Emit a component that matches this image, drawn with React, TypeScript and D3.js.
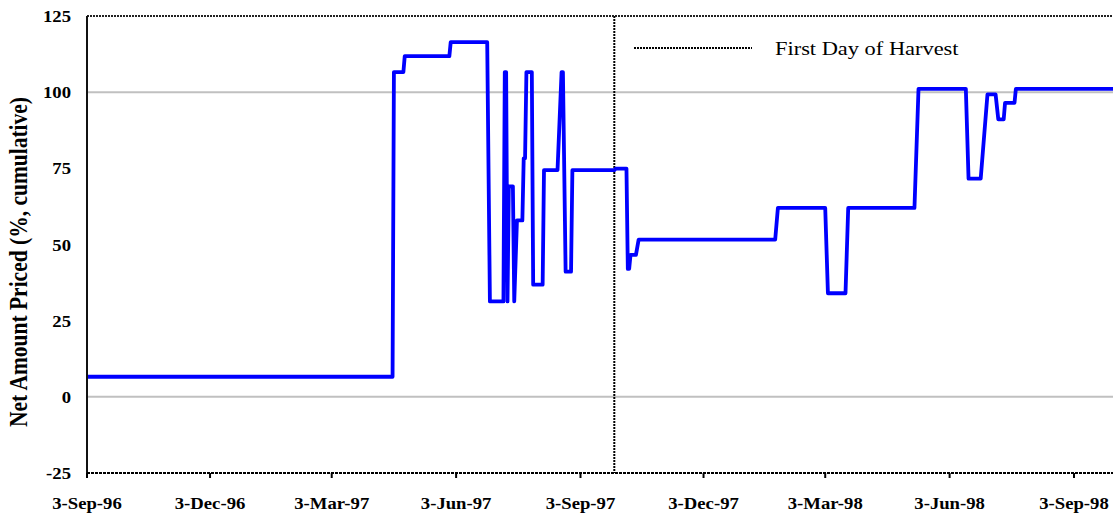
import React from "react";
import * as d3 from "d3";

// ---- data ----
const priceDates: string[] = [
  "1996-09-03", "1997-04-17", "1997-04-18", "1997-04-25", "1997-04-26",
  "1997-05-29", "1997-05-30", "1997-06-26", "1997-06-28", "1997-07-08",
  "1997-07-09", "1997-07-10", "1997-07-11", "1997-07-12", "1997-07-15",
  "1997-07-16", "1997-07-18", "1997-07-22", "1997-07-23", "1997-07-24",
  "1997-07-25", "1997-07-29", "1997-07-30", "1997-08-06", "1997-08-07",
  "1997-08-17", "1997-08-20", "1997-08-21", "1997-08-23", "1997-08-27",
  "1997-08-28", "1997-09-28", "1997-09-29", "1997-10-07", "1997-10-08",
  "1997-10-09", "1997-10-10", "1997-10-14", "1997-10-16", "1998-01-25",
  "1998-01-27", "1998-03-03", "1998-03-05", "1998-03-18", "1998-03-20",
  "1998-05-08", "1998-05-11", "1998-06-15", "1998-06-17", "1998-06-26",
  "1998-07-01", "1998-07-07", "1998-07-09", "1998-07-13", "1998-07-14",
  "1998-07-21", "1998-07-22", "1998-10-15",
];
const priceValues: number[] = [
  6.6, 6.6, 106.6, 106.6, 111.8,
  111.8, 116.4, 116.4, 31.3, 31.3,
  106.6, 106.6, 31.3, 69.1, 69.1,
  31.3, 57.9, 57.9, 78.3, 78.3,
  106.6, 106.6, 36.8, 36.8, 74.4,
  74.4, 106.6, 106.6, 41.1, 41.1,
  74.4, 74.4, 74.9, 74.9, 42.0,
  42.0, 46.6, 46.6, 51.6, 51.6,
  62.0, 62.0, 34.0, 34.0, 62.0,
  62.0, 101.1, 101.1, 71.6, 71.6,
  99.3, 99.3, 91.1, 91.1, 96.5,
  96.5, 101.1, 101.1,
];
const xTickDates: string[] = [
  "1996-09-03", "1996-12-03", "1997-03-03", "1997-06-03", "1997-09-03",
  "1997-12-03", "1998-03-03", "1998-06-03", "1998-09-03",
];
const yTicks: number[] = [-25, 0, 25, 50, 75, 100, 125];
const gridValues: number[] = [0, 100];
const harvestDate = "1997-09-28";
const legendLabel = "First Day of Harvest";
const yTitle = "Net Amount Priced (%, cumulative)";

const W = 1113;
const H = 516;
const SX = 1.18; // horizontal stretch of the original text
const SXT = 1.1; // stretch for tick labels

const parse = d3.utcParse("%Y-%m-%d");
const fmt = d3.utcFormat("%-d-%b-%y");

export default function App() {
  const left = 87;
  const top = 16;
  const bottom = 473;
  const right = W;

  const x = d3
    .scaleUtc()
    .domain([parse("1996-09-03")!, parse("1998-09-03")!])
    .range([87, 1074]);
  const y = d3.scaleLinear().domain([-25, 125]).range([bottom, top]);

  const pts = priceDates.map((d, i) => [parse(d)!, priceValues[i]] as [Date, number]);
  const line = d3
    .line<[Date, number]>()
    .x((d) => x(d[0]))
    .y((d) => y(d[1]));

  const hx = x(parse(harvestDate)!);
  const font = "'Liberation Serif', 'Times New Roman', serif";

  return (
    <svg
      width={W}
      height={H}
      style={{ position: "absolute", left: 0, top: 0, background: "#fff" }}
      fontFamily={font}
    >
      <defs>
        <clipPath id="plot">
          <rect x={left} y={top - 2} width={right - left} height={bottom - top + 4} />
        </clipPath>
      </defs>

      {/* gridlines */}
      {gridValues.map((g) => (
        <line key={g} x1={left} x2={right} y1={y(g)} y2={y(g)} stroke="#c0c0c0" strokeWidth={2} />
      ))}

      {/* first day of harvest */}
      <line x1={hx} x2={hx} y1={top} y2={bottom} stroke="#000" strokeWidth={2} strokeDasharray="2,1" />

      {/* data line */}
      <g clipPath="url(#plot)">
        <path
          d={line(pts) || ""}
          fill="none"
          stroke="#0000ff"
          strokeWidth={3.8}
          strokeLinejoin="round"
          strokeLinecap="round"
        />
      </g>

      {/* top border */}
      <line x1={left} x2={right} y1={top} y2={top} stroke="#222" strokeWidth={2} strokeDasharray="2,1" />
      {/* left axis */}
      <line x1={left} x2={left} y1={top} y2={bottom} stroke="#111" strokeWidth={2} />
      {/* bottom axis */}
      <line x1={left} x2={right} y1={bottom} y2={bottom} stroke="#000" strokeWidth={2.2} strokeDasharray="3,1" />

      {/* x ticks */}
      {xTickDates.map((d) => {
        const xx = x(parse(d)!);
        return (
          <g key={d}>
            <line x1={xx} x2={xx} y1={bottom} y2={bottom + 5} stroke="#000" strokeWidth={2} />
            <text
              transform={`translate(${xx},${509}) scale(${SXT},1)`}
              textAnchor="middle"
              fontSize={17}
              fontWeight="bold"
            >
              {fmt(parse(d)!)}
            </text>
          </g>
        );
      })}

      {/* y tick labels */}
      {yTicks.map((t) => (
        <text
          key={t}
          transform={`translate(71,${y(t) + 6}) scale(${SXT},1)`}
          textAnchor="end"
          fontSize={17}
          fontWeight="bold"
        >
          {t}
        </text>
      ))}

      {/* y title */}
      <text
        transform={`translate(${27},${262}) rotate(-90) scale(1,${SX})`}
        textAnchor="middle"
        fontSize={21.5}
        fontWeight="bold"
      >
        {yTitle}
      </text>

      {/* legend */}
      <line x1={634} x2={752} y1={48} y2={48} stroke="#000" strokeWidth={2} strokeDasharray="2,1" />
      <text transform={`translate(775,${54.5}) scale(${SX},1)`} fontSize={19}>
        {legendLabel}
      </text>
    </svg>
  );
}
